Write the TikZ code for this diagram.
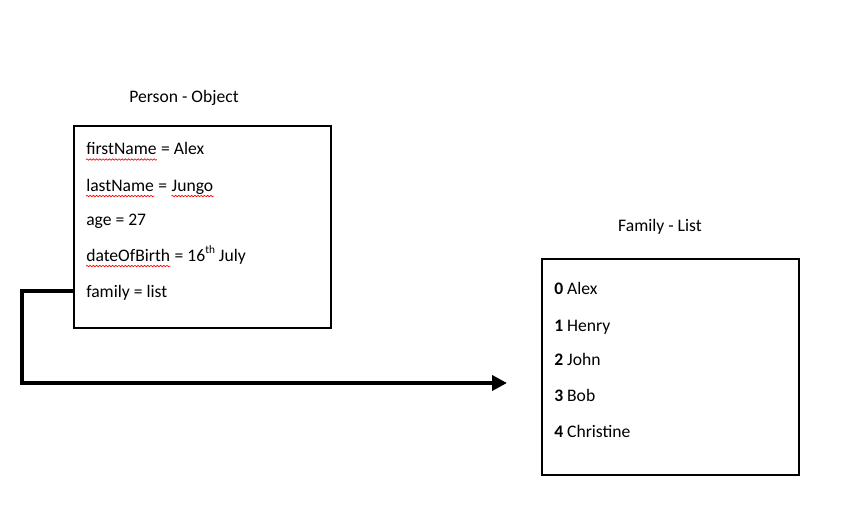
\documentclass[tikz,border=0pt]{standalone}
\usepackage{fontspec}
\setmainfont{Carlito}
\usetikzlibrary{arrows.meta,decorations.pathmorphing}
\begin{document}
\begin{tikzpicture}[x=0.75pt,y=-0.75pt,
  txt/.style={inner sep=0pt,anchor=base west,font=\fontsize{13.2pt}{15pt}\selectfont},
  ttl/.style={inner sep=0pt,anchor=base,font=\fontsize{13.2pt}{15pt}\selectfont},
  boxx/.style={draw=black,line width=1.5pt,fill=white},
  squig/.style={draw=red,line width=0.5pt,decorate,decoration={snake,amplitude=0.55pt,segment length=2.4pt}},
  conn/.style={draw=black,line width=3pt,-{Triangle[length=11.25pt,width=11.25pt]}}]
\useasboundingbox[fill=white] (0,0) rectangle (850,527);
% boxes
\draw[boxx] (74,126) rectangle (331,328);
\draw[boxx] (542,259) rectangle (799,475);
% titles
\node[ttl] (pt) at (184,103) {Person - Object};
\node[ttl] (ft) at (660,232) {Family - List};
% person fields
\node[txt] (fn) at (86,155) {firstName};
\node[txt] (fnv) at (fn.base east) {\ = Alex};
\node[txt] (ln) at (86,191.5) {lastName};
\node[txt] (lne) at (ln.base east) {\ =\ \null};
\node[txt] (lnv) at (lne.base east) {Jungo};
\node[txt] (ag) at (86,225.5) {age = 27};
\node[txt] (db) at (86,261.5) {dateOfBirth};
\node[txt] (dbv) at (db.base east) {\ = 16\raisebox{0.45em}{\fontsize{8.5pt}{10pt}\selectfont th} July};
\node[txt] (fl) at (86,297.5) {family = list};
% squiggles
\draw[squig] ([yshift=-3.4pt]fn.base west) -- ([yshift=-3.4pt]fn.base east);
\draw[squig] ([yshift=-3.4pt]ln.base west) -- ([yshift=-3.4pt]ln.base east);
\draw[squig] ([yshift=-3.4pt]lnv.base west) -- ([yshift=-3.4pt]lnv.base east);
\draw[squig] ([yshift=-3.4pt]db.base west) -- ([yshift=-3.4pt]db.base east);
% family list
\node[txt] (f0) at (554,295) {\textbf{0} Alex};
\node[txt] (f1) at (554,331.5) {\textbf{1} Henry};
\node[txt] (f2) at (554,366) {\textbf{2} John};
\node[txt] (f3) at (554,401.5) {\textbf{3} Bob};
\node[txt] (f4) at (554,437.5) {\textbf{4} Christine};
% connector
\coordinate (start) at (74,291);
\coordinate (corner) at (22,383);
\coordinate (tip) at (507,383);
\draw[conn] (start) -| (corner) -- (tip);
\end{tikzpicture}
\end{document}
